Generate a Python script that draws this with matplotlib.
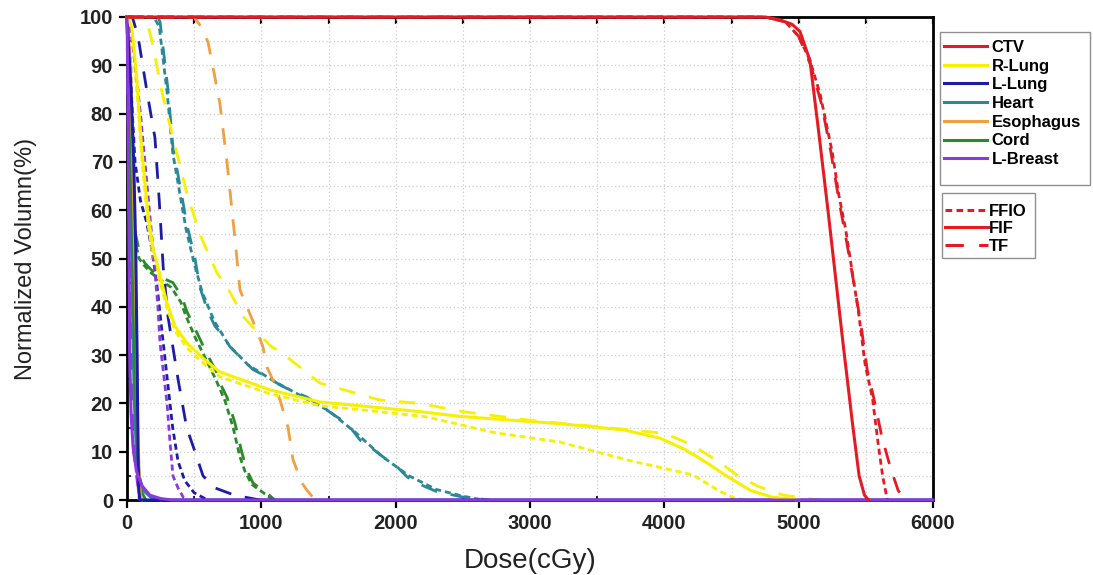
import matplotlib
matplotlib.use("Agg")
import matplotlib.pyplot as plt
from matplotlib.lines import Line2D
from matplotlib.patches import Rectangle
from matplotlib.ticker import MultipleLocator

plt.rcParams['font.family'] = ['Liberation Sans', 'DejaVu Sans']

# ---------------- data (dose in cGy, volume in %) ----------------
structures = ["CTV", "R-Lung", "L-Lung", "Heart", "Esophagus", "Cord", "L-Breast"]
techniques = ["FFIO", "FIF", "TF"]
x_ticks = [0, 1000, 2000, 3000, 4000, 5000, 6000]
y_ticks = [0, 10, 20, 30, 40, 50, 60, 70, 80, 90, 100]

# CTV
ctv_fif_x = [0, 4750, 4850, 4950, 5010, 5084, 5150, 5218, 5330, 5400, 5450, 5490, 5520]
ctv_fif_y = [100, 100, 99.5, 98.5, 97, 91, 76, 60, 32.5, 16, 5, 1, 0]
ctv_ffio_x = [0, 4750, 4900, 5000, 5084, 5160, 5250, 5300, 5350, 5400, 5445, 5495, 5550, 5590, 5625, 5660]
ctv_ffio_y = [100, 100, 99, 96, 91, 84, 72, 63, 56, 47, 39, 28, 21, 12, 5, 0]
ctv_tf_x = [0, 4750, 4900, 5000, 5090, 5170, 5240, 5300, 5360, 5410, 5460, 5510, 5560, 5620, 5680, 5740, 5790]
ctv_tf_y = [100, 100, 99, 96, 90, 82, 72, 62, 53, 45, 37, 27, 21, 13, 7, 2, 0]

# R-Lung
rl_fif_x = [0, 35, 70, 109, 157, 194, 232, 295, 357, 446, 580, 692, 1064, 1437, 2181, 2479, 3223, 3700, 3968, 4150, 4300, 4450, 4640, 4800, 5000]
rl_fif_y = [100, 98, 88, 73, 59, 52, 48, 41, 36, 32.5, 29, 26.5, 22.8, 20.3, 18.3, 17.3, 15.8, 14.5, 12.8, 10.5, 8, 5.2, 2, 0.6, 0]
rl_ffio_x = [0, 35, 70, 109, 157, 194, 232, 295, 357, 446, 580, 692, 1064, 1437, 1800, 2233, 2725, 3223, 3722, 4213, 4400, 4520, 4600]
rl_ffio_y = [100, 97, 86, 71, 57, 50.5, 46.5, 40, 35, 31.5, 28, 25.5, 22, 19.5, 18.5, 17.2, 14, 12, 8.3, 5.2, 2, 0.4, 0]
rl_tf_x = [0, 140, 186, 260, 298, 454, 558, 670, 767, 864, 1064, 1191, 1437, 1883, 2181, 2500, 3000, 3500, 4000, 4200, 4400, 4550, 4700, 4886, 5150]
rl_tf_y = [100, 100, 95, 84.5, 80, 62.5, 54, 47, 43, 38, 32, 29.6, 24.2, 20.7, 20, 18.3, 16.5, 15.2, 13.8, 11.5, 8, 5, 2.8, 1, 0]

# L-Lung
ll_fif_x = [0, 10, 30, 50, 65, 75, 82, 88, 95, 6000]
ll_fif_y = [100, 95, 85, 70, 52, 30, 10, 2, 0, 0]
ll_ffio_x = [0, 20, 60, 100, 146, 184, 221, 260, 300, 340, 380, 430, 500, 600]
ll_ffio_y = [100, 90, 70, 62, 57.5, 52, 45, 35, 25, 15, 8, 4, 1.5, 0]
ll_tf_x = [0, 40, 82, 149, 208, 240, 270, 305, 380, 444, 506, 566, 655, 800, 990]
ll_tf_y = [100, 100, 96, 84.5, 75, 62, 48, 38, 25, 15, 10, 5, 2.5, 1, 0]

# Heart
ht_fif_x = [0, 10, 25, 40, 55, 70, 90, 120, 180, 250]
ht_fif_y = [100, 95, 70, 40, 20, 10, 5, 2, 0.5, 0]
ht_ffio_x = [0, 200, 240, 300, 340, 390, 440, 500, 560, 650, 760, 900, 1100, 1300, 1500, 1700, 1900, 2100, 2300, 2500, 2650]
ht_ffio_y = [100, 100, 98, 84, 72, 64, 56, 49, 43, 37, 32, 28, 24.5, 21.5, 18.5, 14, 9, 5, 2.2, 0.8, 0]
ht_tf_x = [0, 230, 246, 305, 342, 395, 446, 506, 543, 603, 655, 715, 767, 864, 938, 1042, 1139, 1213, 1340, 1489, 1563, 1638, 1735, 1809, 1936, 2010, 2084, 2159, 2300, 2500, 2700]
ht_tf_y = [100, 100, 99, 85, 73, 65, 57, 50, 44, 39, 36, 34, 31.7, 29, 27, 25.5, 23.8, 22.8, 21.3, 18.6, 17.2, 15.9, 12.4, 11, 8.3, 6.9, 4.8, 3.5, 1.8, 0.6, 0]

# Esophagus
es_fif_x = [0, 20, 40, 55, 70, 80, 90, 100, 115]
es_fif_y = [100, 92, 75, 55, 35, 15, 5, 1, 0]
es_ffio_x = [0, 30, 46, 55, 62, 70, 76, 82, 90]
es_ffio_y = [100, 90, 72, 55, 40, 25, 12, 3, 0]
es_tf_x = [0, 500, 543, 603, 640, 692, 744, 804, 841, 893, 968, 1012, 1042, 1087, 1139, 1199, 1236, 1303, 1340, 1385, 1420]
es_tf_y = [100, 100, 98.3, 94.8, 89.6, 82, 70, 54, 43.5, 40, 35, 31.7, 27.5, 24.8, 20.7, 15, 8.3, 3.5, 2, 0.5, 0]

# Cord
cd_fif_x = [0, 15, 30, 45, 60, 75, 90, 110, 140]
cd_fif_y = [100, 90, 70, 45, 25, 12, 5, 1.5, 0]
cd_ffio_x = [0, 15, 40, 90, 130, 180, 250, 330, 400, 440, 510, 590, 660, 730, 790, 840, 880, 930, 1030, 1090]
cd_ffio_y = [100, 78, 56, 50, 48.5, 47, 45.5, 44, 41, 38, 33.5, 29, 25, 20.5, 15, 9, 5.8, 3.2, 1.2, 0]
cd_tf_x = [0, 20, 46, 97, 134, 186, 260, 342, 410, 446, 521, 600, 670, 692, 744, 804, 856, 893, 938, 1042, 1100]
cd_tf_y = [100, 80, 57.5, 50.7, 49, 47.5, 46, 45, 42, 39, 34.6, 30, 26.3, 24.2, 21.3, 15.9, 9.7, 6.2, 3.5, 1.4, 0]

# L-Breast
lb_fif_x = [0, 5, 10, 15, 20, 30, 45, 70, 110, 170, 250, 330, 6000]
lb_fif_y = [100, 90, 70, 50, 30, 18, 11, 6, 3, 1, 0.3, 0, 0]
lb_ffio_x = [0, 40, 100, 150, 200, 230, 246, 298, 320, 342, 380, 420, 450]
lb_ffio_y = [100, 95, 80, 65, 50, 40, 32.5, 20, 12, 5, 2.5, 0.5, 0]
lb_tf_x = [0, 15, 30, 50, 80, 120]
lb_tf_y = [100, 60, 30, 10, 3, 0]

# ---------------- styles ----------------
colors = {
    "CTV": "#e31b23",
    "R-Lung": "#f7f000",
    "L-Lung": "#1c1ca8",
    "Heart": "#2a8898",
    "Esophagus": "#f0a040",
    "Cord": "#2a8a2a",
    "L-Breast": "#8a38e0",
}
styles = {"FFIO": (0, (2.2, 1.4)), "FIF": "-", "TF": (0, (6, 5))}

curves = [
    ("Heart", ht_ffio_x, ht_ffio_y, ht_fif_x, ht_fif_y, ht_tf_x, ht_tf_y),
    ("Cord", cd_ffio_x, cd_ffio_y, cd_fif_x, cd_fif_y, cd_tf_x, cd_tf_y),
    ("Esophagus", es_ffio_x, es_ffio_y, es_fif_x, es_fif_y, es_tf_x, es_tf_y),
    ("L-Lung", ll_ffio_x, ll_ffio_y, ll_fif_x, ll_fif_y, ll_tf_x, ll_tf_y),
    ("R-Lung", rl_ffio_x, rl_ffio_y, rl_fif_x, rl_fif_y, rl_tf_x, rl_tf_y),
    ("L-Breast", lb_ffio_x, lb_ffio_y, lb_fif_x, lb_fif_y, lb_tf_x, lb_tf_y),
    ("CTV", ctv_ffio_x, ctv_ffio_y, ctv_fif_x, ctv_fif_y, ctv_tf_x, ctv_tf_y),
]

W, H = 1093, 575
fig = plt.figure(figsize=(W / 100, H / 100), dpi=100)
ax = fig.add_axes([127 / W, 75 / H, 806 / W, 483 / H])

for name, fx, fy, sx, sy, tx, ty in curves:
    c = colors[name]
    ax.plot(fx, fy, color=c, lw=2.0, ls=styles["FFIO"], zorder=3, clip_on=False)
    ax.plot(tx, ty, color=c, lw=2.0, ls=styles["TF"], zorder=3, clip_on=False)
    ax.plot(sx, sy, color=c, lw=2.2, ls=styles["FIF"], zorder=3.2, clip_on=False)

ax.set_xlim(0, 6000)
ax.set_ylim(0, 100)
ax.set_xticks(x_ticks)
ax.set_yticks(y_ticks)
ax.xaxis.set_minor_locator(MultipleLocator(500))
ax.yaxis.set_minor_locator(MultipleLocator(5))
ax.grid(True, which="both", color="#cdcdcd", ls=(0, (1, 2)), lw=0.9, zorder=0)

for s in ax.spines.values():
    s.set_linewidth(2.0)
    s.set_color("black")

ax.tick_params(axis="both", which="major", direction="out", length=6, width=1.6,
               labelsize=14.5, pad=4)
ax.tick_params(axis="both", which="minor", direction="in", length=3, width=1.2)
for lab in ax.get_xticklabels() + ax.get_yticklabels():
    lab.set_fontweight("bold")
    lab.set_color("#222222")

top = ax.secondary_xaxis("top")
top.set_xticks([500 * i for i in range(13)])
top.tick_params(direction="in", length=5, width=1.6, labeltop=False)
top.spines["top"].set_visible(False)

ax.set_xlabel("Dose(cGy)", fontsize=20, color="#222222")
ax.set_ylabel("Normalized Volumn(%)", fontsize=17, color="#222222")
ax.xaxis.set_label_coords(0.5, -0.1)
ax.yaxis.set_label_coords(-0.112, 0.5)

# legend boxes
for (x0, y0, x1, y1) in [(940, 32, 1090, 185), (942, 193, 1035, 258)]:
    fig.patches.append(Rectangle((x0 / W, 1 - y1 / H), (x1 - x0) / W, (y1 - y0) / H,
                                 transform=fig.transFigure, fill=False,
                                 edgecolor="#909090", lw=1.0))

h1 = [Line2D([0], [0], color=colors[n], lw=2.2) for n in structures]
fig.legend(h1, structures, loc="upper left", bbox_to_anchor=(944 / W, 1 - 40 / H),
           frameon=False, prop={"weight": "bold", "size": 12},
           handlelength=2.6, handletextpad=0.25, labelspacing=0.22, borderpad=0,
           borderaxespad=0)

h2 = [Line2D([0], [0], color=colors["CTV"], lw=2.2, ls=styles[t]) for t in techniques]
fig.legend(h2, techniques, loc="upper left", bbox_to_anchor=(945 / W, 1 - 204 / H),
           frameon=False, prop={"weight": "bold", "size": 12},
           handlelength=2.6, handletextpad=0.05, labelspacing=0.14, borderpad=0,
           borderaxespad=0)

fig.savefig("out.png", dpi=100)
